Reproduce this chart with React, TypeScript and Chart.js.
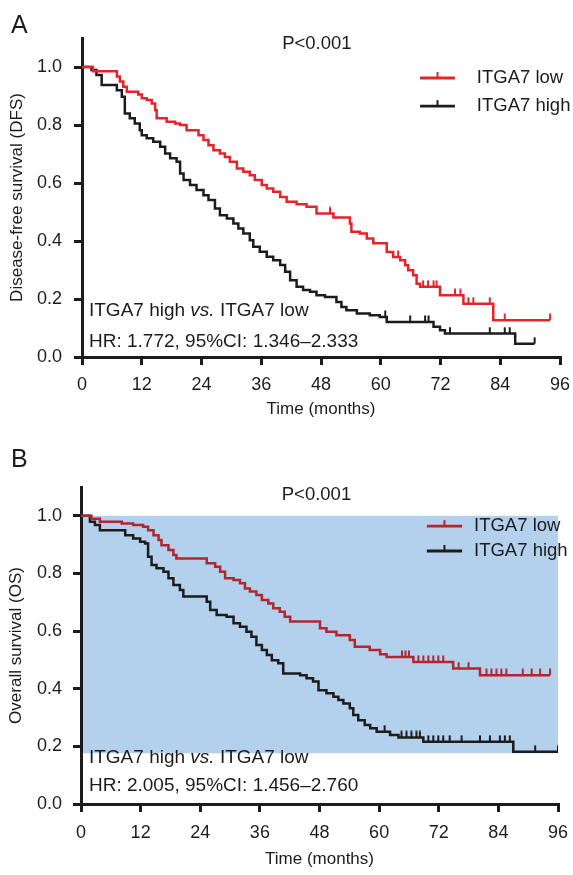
import React, { useEffect, useRef } from "react";
import { Chart, registerables } from "chart.js";

Chart.register(...registerables);

const FONT = "'Liberation Sans', Arial, Helvetica, sans-serif";
const INK = "#1c1c1c";

type Curve = [number, number][];

// ---- axes ----
const X_MIN = 0;
const X_MAX = 96;
const X_STEP = 12;
const Y_MIN = 0;
const Y_MAX = 1.1;
const Y_STEP = 0.2;
const Y_LAST_LABEL = 1.0;
const X_TITLE = "Time (months)";

// ---- Panel A: disease-free survival (time in months, survival) ----
const A_LOW: Curve = [
  [0, 1], [2.2, 0.985], [7.0, 0.967], [7.6, 0.95], [8.3, 0.932], [9.0, 0.915], [11.3, 0.905], [12.0, 0.892],
  [13.0, 0.886], [14.0, 0.874], [14.7, 0.851], [15.0, 0.823], [17.0, 0.811], [18.7, 0.805], [19.7, 0.8],
  [21.0, 0.782], [23.4, 0.765], [24.4, 0.748], [25.4, 0.73], [26.4, 0.713], [27.7, 0.702], [28.7, 0.69],
  [29.7, 0.673], [31.1, 0.65], [32.4, 0.639], [33.7, 0.627], [34.7, 0.61], [36.1, 0.593], [37.1, 0.581],
  [38.4, 0.57], [39.8, 0.552], [41.1, 0.535], [43.1, 0.527], [45.1, 0.518], [47.1, 0.495], [50.5, 0.481],
  [53.8, 0.46], [54.1, 0.432], [55.8, 0.426], [57.2, 0.409], [58.5, 0.392], [61.2, 0.362], [62.5, 0.345],
  [63.9, 0.334], [64.9, 0.316], [65.5, 0.299], [66.5, 0.282], [67.2, 0.253], [67.9, 0.242], [71.9, 0.213],
  [76.6, 0.184], [82.6, 0.127], [94.0, 0.127],
];
const A_HIGH: Curve = [
  [0, 1], [1.9, 0.99], [2.9, 0.972], [3.95, 0.938], [7.0, 0.92], [8.0, 0.897], [8.6, 0.84], [9.6, 0.823],
  [10.6, 0.805], [11.6, 0.782], [12.0, 0.765], [13.0, 0.754], [14.3, 0.742], [15.7, 0.725], [16.7, 0.702],
  [17.7, 0.685], [19.0, 0.673], [19.7, 0.633], [20.4, 0.61], [21.7, 0.593], [23.0, 0.576], [24.4, 0.558],
  [25.4, 0.541], [26.7, 0.512], [27.7, 0.489], [29.1, 0.478], [30.4, 0.46], [31.4, 0.443], [32.4, 0.426],
  [33.7, 0.403], [34.4, 0.38], [35.7, 0.363], [37.1, 0.346], [38.4, 0.334], [39.8, 0.317], [40.8, 0.294],
  [41.8, 0.265], [43.1, 0.242], [44.4, 0.231], [45.8, 0.225], [47.1, 0.213], [48.8, 0.207], [51.1, 0.19],
  [52.1, 0.172], [53.1, 0.161], [55.2, 0.15], [57.8, 0.144], [59.8, 0.138], [61.2, 0.121], [70.6, 0.104],
  [71.9, 0.092], [72.9, 0.081], [87.0, 0.046], [90.9, 0.046],
];
const A_LOW_CENSORED = [49.8, 63.5, 68.5, 69.5, 70.6, 71.2, 74.9, 76.0, 77.6, 78.6, 81.9, 84.9, 94.0];
const A_HIGH_CENSORED = [60.9, 65.9, 68.9, 69.6, 73.9, 81.9, 84.9, 85.9, 90.9];

// ---- Panel B: overall survival ----
const B_LOW: Curve = [
  [0, 1], [2.1, 0.99], [3.8, 0.979], [8.2, 0.973], [10.5, 0.968], [12.5, 0.962], [13.5, 0.95], [14.6, 0.933],
  [15.6, 0.916], [16.2, 0.898], [17.6, 0.881], [18.6, 0.864], [19.2, 0.852], [25.3, 0.835], [27.0, 0.823],
  [28.0, 0.806], [29.0, 0.783], [30.7, 0.777], [32.0, 0.766], [33.0, 0.748], [34.0, 0.737], [35.3, 0.725],
  [36.4, 0.708], [37.7, 0.696], [38.7, 0.679], [40.0, 0.667], [41.0, 0.65], [42.1, 0.633], [48.1, 0.61],
  [49.4, 0.598], [51.4, 0.586], [54.1, 0.569], [55.1, 0.546], [58.1, 0.534], [60.2, 0.52], [61.5, 0.51],
  [66.9, 0.493], [74.9, 0.47], [80.3, 0.447], [94.4, 0.447],
];
const B_HIGH: Curve = [
  [0, 1], [1.8, 0.979], [2.8, 0.968], [3.8, 0.95], [8.9, 0.933], [10.5, 0.921], [11.9, 0.91], [12.9, 0.904],
  [13.5, 0.858], [14.2, 0.829], [15.2, 0.818], [16.6, 0.806], [17.6, 0.783], [18.6, 0.76], [19.9, 0.743],
  [20.6, 0.72], [25.3, 0.702], [26.0, 0.673], [27.3, 0.656], [29.3, 0.65], [30.7, 0.627], [32.0, 0.615],
  [33.3, 0.598], [34.3, 0.58], [35.3, 0.552], [36.4, 0.534], [37.4, 0.517], [38.4, 0.499], [39.7, 0.488],
  [40.7, 0.453], [44.1, 0.447], [45.4, 0.436], [46.7, 0.425], [47.8, 0.395], [49.4, 0.384], [50.8, 0.372],
  [51.8, 0.361], [52.8, 0.349], [54.1, 0.332], [54.8, 0.309], [55.8, 0.291], [57.1, 0.274], [58.2, 0.263],
  [59.5, 0.251], [62.2, 0.239], [63.9, 0.231], [68.9, 0.216], [87.0, 0.181], [96.0, 0.181],
];
const B_LOW_CENSORED = [
  64.6, 65.3, 66.0, 67.9, 68.9, 69.9, 70.9, 71.9, 72.9, 76.0, 78.0, 81.6, 82.6, 83.6, 84.6, 85.6, 88.9, 90.7,
  92.4, 94.4,
];
const B_HIGH_CENSORED = [
  61.1, 64.5, 65.5, 66.5, 67.5, 68.2, 69.9, 70.9, 71.9, 72.9, 74.2, 76.6, 80.3, 82.3, 84.3, 85.3, 86.3, 91.4, 96.0,
];
// shaded background region of panel B (months, survival)
const B_SHADE_X = [0, 96];
const B_SHADE_Y = [0.176, 1.0];

const LOW_LABEL = "ITGA7 low";
const HIGH_LABEL = "ITGA7 high";

interface Panel {
  letter: string;
  letterBaseline: number;
  top: number;
  height: number;
  yAxisWidth: number;
  xAxisHeight: number;
  padTop: number;
  padRight: number;
  yTitle: string;
  yTitlePad: number;
  yTickPad: number;
  xTickPad: number;
  xTitlePad: number;
  low: Curve;
  high: Curve;
  lowCens: number[];
  highCens: number[];
  lowColor: string;
  highColor: string;
  pPos: [number, number];
  legendLine: [number, number];
  legendTextX: number;
  legendRows: [number, number];
  noteX: number;
  noteRows: [number, number];
  hr: string;
  shade?: { x: number[]; y: number[]; color: string };
}

const PANELS: Panel[] = [
  {
    letter: "A", letterBaseline: 33, top: 0, height: 430, yAxisWidth: 82, xAxisHeight: 73, padTop: 38, padRight: 13,
    yTitle: "Disease-free survival (DFS)", yTitlePad: 7, yTickPad: 12, xTickPad: 9, xTitlePad: 10,
    low: A_LOW, high: A_HIGH, lowCens: A_LOW_CENSORED, highCens: A_HIGH_CENSORED,
    lowColor: "#e2252b", highColor: INK,
    pPos: [40.2, 1.079], legendLine: [67.9, 74.9], legendTextX: 79.3, legendRows: [0.962, 0.865],
    noteX: 1.4, noteRows: [0.161, 0.054], hr: "HR: 1.772, 95%CI: 1.346\u20132.333",
  },
  {
    letter: "B", letterBaseline: 37, top: 430, height: 445, yAxisWidth: 81, xAxisHeight: 71, padTop: 57, padRight: 15,
    yTitle: "Overall survival (OS)", yTitlePad: 6, yTickPad: 11, xTickPad: 10, xTitlePad: 5,
    low: B_LOW, high: B_HIGH, lowCens: B_LOW_CENSORED, highCens: B_HIGH_CENSORED,
    lowColor: "#b1262f", highColor: INK,
    pPos: [40.4, 1.072], legendLine: [69.6, 76.7], legendTextX: 79.1, legendRows: [0.964, 0.878],
    noteX: 1.6, noteRows: [0.16, 0.062], hr: "HR: 2.005, 95%CI: 1.456\u20132.760",
    shade: { x: B_SHADE_X, y: B_SHADE_Y, color: "#b3d0ec" },
  },
];

function survivalAt(curve: Curve, t: number): number {
  let s = curve[0][1];
  for (const [ti, si] of curve) {
    if (ti <= t + 1e-9) s = si;
  }
  return s;
}

function censorMark(color: string): HTMLCanvasElement {
  const c = document.createElement("canvas");
  c.width = 4;
  c.height = 14;
  const ctx = c.getContext("2d")!;
  ctx.strokeStyle = color;
  ctx.lineWidth = 2;
  ctx.beginPath();
  ctx.moveTo(2, 0.5);
  ctx.lineTo(2, 7);
  ctx.stroke();
  return c;
}

function PanelChart({ p }: { p: Panel }) {
  const ref = useRef<HTMLCanvasElement | null>(null);

  useEffect(() => {
    const canvas = ref.current;
    if (!canvas) return;

    const kmDataset = (curve: Curve, color: string) => ({
      data: curve.map(([t, s]) => ({ x: t, y: s })),
      stepped: true as const,
      borderColor: color,
      borderWidth: 2.5,
      pointRadius: 0,
      fill: false,
      order: 2,
    });
    const censDataset = (curve: Curve, cens: number[], color: string) => ({
      data: cens.map((t) => ({ x: t, y: survivalAt(curve, t) })),
      showLine: false,
      pointStyle: censorMark(color),
      pointRadius: 3,
      borderWidth: 0,
      order: 1,
    });

    const annotations = {
      id: "kmAnnotations",
      beforeDraw(chart: any) {
        if (!p.shade) return;
        const { ctx, scales } = chart;
        const x0 = scales.x.getPixelForValue(p.shade.x[0]);
        const x1 = scales.x.getPixelForValue(p.shade.x[1]);
        const y0 = scales.y.getPixelForValue(p.shade.y[1]);
        const y1 = scales.y.getPixelForValue(p.shade.y[0]);
        ctx.save();
        ctx.fillStyle = p.shade.color;
        ctx.fillRect(x0, y0, x1 - x0, y1 - y0);
        ctx.restore();
      },
      afterDraw(chart: any) {
        const { ctx, scales } = chart;
        const X = (v: number) => scales.x.getPixelForValue(v);
        const Y = (v: number) => scales.y.getPixelForValue(v);
        ctx.save();
        ctx.fillStyle = INK;
        ctx.textAlign = "left";

        // panel letter
        ctx.textBaseline = "alphabetic";
        ctx.font = `25px ${FONT}`;
        ctx.fillText(p.letter, 11, p.letterBaseline);
        ctx.textBaseline = "middle";

        // p value
        ctx.font = `18.5px ${FONT}`;
        ctx.fillText("P<0.001", X(p.pPos[0]), Y(p.pPos[1]));

        // legend
        const items = [
          { label: LOW_LABEL, color: p.lowColor, row: p.legendRows[0] },
          { label: HIGH_LABEL, color: p.highColor, row: p.legendRows[1] },
        ];
        for (const it of items) {
          const y = Y(it.row);
          const xa = X(p.legendLine[0]);
          const xb = X(p.legendLine[1]);
          ctx.strokeStyle = it.color;
          ctx.lineWidth = 2.8;
          ctx.beginPath();
          ctx.moveTo(xa, y);
          ctx.lineTo(xb, y);
          ctx.stroke();
          ctx.lineWidth = 2;
          ctx.beginPath();
          ctx.moveTo((xa + xb) / 2, y);
          ctx.lineTo((xa + xb) / 2, y - 6);
          ctx.stroke();
          ctx.fillStyle = INK;
          ctx.font = `18.5px ${FONT}`;
          ctx.fillText(it.label, X(p.legendTextX), y);
        }

        // comparison notes
        const parts = [
          { t: "ITGA7 high ", i: false },
          { t: "vs.", i: true },
          { t: " ITGA7 low", i: false },
        ];
        let cx = X(p.noteX);
        const y1 = Y(p.noteRows[0]);
        for (const part of parts) {
          ctx.font = `${part.i ? "italic " : ""}19px ${FONT}`;
          ctx.fillText(part.t, cx, y1);
          cx += ctx.measureText(part.t).width;
        }
        ctx.font = `19px ${FONT}`;
        ctx.fillText(p.hr, X(p.noteX), Y(p.noteRows[1]));
        ctx.restore();
      },
    };

    const chart = new Chart(canvas, {
      type: "line",
      data: {
        datasets: [
          kmDataset(p.low, p.lowColor),
          kmDataset(p.high, p.highColor),
          censDataset(p.low, p.lowCens, p.lowColor),
          censDataset(p.high, p.highCens, p.highColor),
        ] as any,
      },
      options: {
        animation: false,
        responsive: false,
        maintainAspectRatio: false,
        events: [],
        layout: { padding: { left: 0, right: p.padRight, top: p.padTop, bottom: 0 } },
        plugins: { legend: { display: false }, tooltip: { enabled: false }, title: { display: false } },
        scales: {
          x: {
            type: "linear",
            min: X_MIN,
            max: X_MAX,
            ticks: {
              stepSize: X_STEP,
              color: INK,
              padding: p.xTickPad,
              font: { family: FONT, size: 18 },
              maxRotation: 0,
            },
            grid: { drawOnChartArea: false, drawTicks: true, tickLength: 8, lineWidth: 3, color: INK },
            border: { display: true, color: INK, width: 3 },
            title: {
              display: true,
              text: X_TITLE,
              color: INK,
              font: { family: FONT, size: 17 },
              padding: { top: 0, bottom: p.xTitlePad },
            },
            afterFit: (s: any) => {
              s.height = p.xAxisHeight;
              s.paddingLeft = 0;
              s.paddingRight = 0;
            },
          },
          y: {
            type: "linear",
            min: Y_MIN,
            max: Y_MAX,
            afterBuildTicks: (s: any) => {
              s.ticks = s.ticks.filter((t: any) => t.value <= Y_LAST_LABEL + 1e-6);
            },
            ticks: {
              stepSize: Y_STEP,
              color: INK,
              padding: p.yTickPad,
              font: { family: FONT, size: 18 },
              callback: (v: any) => Number(v).toFixed(1),
            },
            grid: { drawOnChartArea: false, drawTicks: true, tickLength: 8, lineWidth: 3, color: INK },
            border: { display: true, color: INK, width: 3 },
            title: {
              display: true,
              text: p.yTitle,
              color: INK,
              font: { family: FONT, size: 17 },
              padding: { top: p.yTitlePad, bottom: 0 },
            },
            afterFit: (s: any) => {
              s.width = p.yAxisWidth;
              s.paddingTop = 0;
              s.paddingBottom = 0;
            },
          },
        },
      } as any,
      plugins: [annotations],
    });

    return () => chart.destroy();
  }, [p]);

  return (
    <canvas
      ref={ref}
      width={573}
      height={p.height}
      style={{ position: "absolute", left: 0, top: p.top, width: 573, height: p.height }}
    />
  );
}

export default function App() {
  return (
    <div style={{ position: "absolute", left: 0, top: 0, width: 573, height: 875, background: "#fff" }}>
      {PANELS.map((p) => (
        <PanelChart key={p.letter} p={p} />
      ))}
    </div>
  );
}
